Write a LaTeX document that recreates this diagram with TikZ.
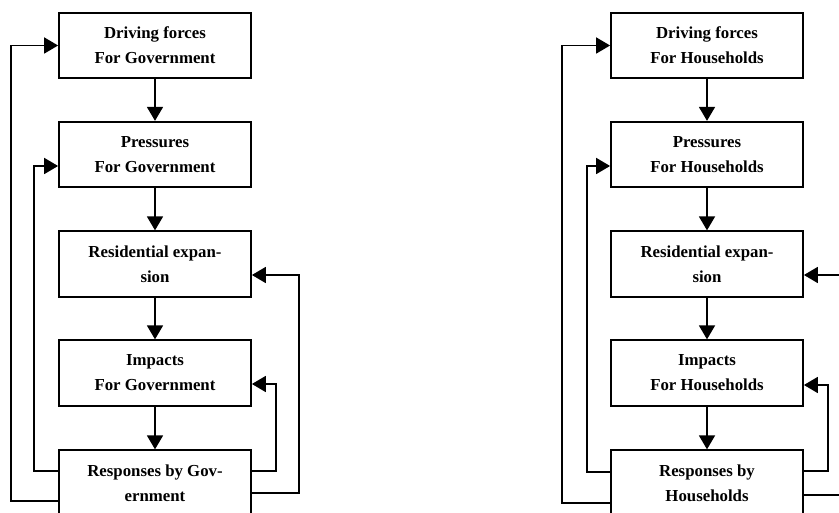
\documentclass[tikz,border=0pt]{standalone}
\usepackage{fontspec}
\setmainfont{Liberation Serif}
\usetikzlibrary{arrows.meta}
\begin{document}
\begin{tikzpicture}[x=1pt,y=1pt,
  stage/.style={draw, line width=1.8pt, minimum width=192pt, minimum height=65.5pt,
    inner sep=0pt, align=center, font=\bfseries\fontsize{16.8}{25}\selectfont},
  flow/.style={line width=1.8pt, -{Triangle[width=16pt,length=14pt]}}]
\useasboundingbox (0,0) rectangle (839,-513);

% Government chain
\node[stage] (gd) at (155,-45.5) {Driving forces\\For Government};
\node[stage] (gp) at (155,-154.5) {Pressures\\For Government};
\node[stage] (ge) at (155,-264) {Residential expan-\\sion};
\node[stage] (gi) at (155,-373) {Impacts\\For Government};
\node[stage] (gr) at (155,-483) {Responses by Gov-\\ernment};

\draw[flow] (gd) -- (gp);
\draw[flow] (gp) -- (ge);
\draw[flow] (ge) -- (gi);
\draw[flow] (gi) -- (gr);

\draw[flow] ([yshift=-18pt]gr.west) -- ++(-47,0) |- (gd.west);
\draw[flow] ([yshift=12pt]gr.west) -- ++(-24,0) |- ([yshift=-11.5pt]gp.west);
\draw[flow] ([yshift=12pt]gr.east) -- ++(24,0) |- ([yshift=-11pt]gi.east);
\draw[flow] ([yshift=-10pt]gr.east) -- ++(47,0) |- ([yshift=-11pt]ge.east);

% Households chain
\node[stage] (hd) at (707,-45.5) {Driving forces\\For Households};
\node[stage] (hp) at (707,-154.5) {Pressures\\For Households};
\node[stage] (he) at (707,-264) {Residential expan-\\sion};
\node[stage] (hi) at (707,-373) {Impacts\\For Households};
\node[stage] (hr) at (707,-483) {Responses by\\Households};

\draw[flow] (hd) -- (hp);
\draw[flow] (hp) -- (he);
\draw[flow] (he) -- (hi);
\draw[flow] (hi) -- (hr);

\draw[flow] ([yshift=-20pt]hr.west) -- ++(-48,0) |- (hd.west);
\draw[flow] ([yshift=11pt]hr.west) -- ++(-23,0) |- ([yshift=-11.5pt]hp.west);
\draw[flow] ([yshift=12pt]hr.east) -- ++(24,0) |- ([yshift=-12pt]hi.east);
\draw[flow] ([yshift=-12pt]hr.east) -- ++(47,0) |- ([yshift=-11pt]he.east);
\end{tikzpicture}
\end{document}
